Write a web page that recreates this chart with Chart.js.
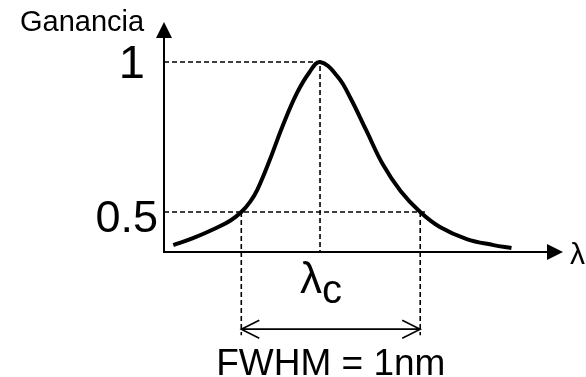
<!DOCTYPE html>
<html>
<head>
<meta charset="utf-8">
<script src="https://cdn.jsdelivr.net/npm/chart.js@4/dist/chart.umd.min.js"></script>
<style>
  html, body { margin: 0; padding: 0; background: #fff; }
  #wrap { width: 586px; height: 377px; }
</style>
</head>
<body>
<div id="wrap"><canvas id="gainChart" width="586" height="377"></canvas></div>
<script>
// gain curve, x = wavelength offset from lambda_c (nm), y = normalised gain
const gainX = [-0.82, -0.71, -0.58, -0.50, -0.44, -0.39, -0.35, -0.28, -0.21, -0.13, -0.06, 0, 0.10, 0.17, 0.26, 0.35, 0.45, 0.56, 0.67, 0.82, 0.97, 1.07];
const gainY = [0.39, 0.413, 0.447, 0.472, 0.50, 0.535, 0.575, 0.675, 0.785, 0.895, 0.965, 1.00, 0.95, 0.88, 0.77, 0.66, 0.57, 0.50, 0.45, 0.41, 0.39, 0.38];

// peak and half maximum points
const peakX = 0;
const halfX = [-0.44, 0.56];
const tickValues = [1, 0.5];
const tickLabels = ['1', '0.5'];

// visible range of the axes
const xRange = [-0.872, 1.358];
const yRange = [0.367, 1.133];
const arrowLevel = 0.11;   // height of the FWHM arrow
const dropLevel = 0.09;    // lower end of the dashed drop lines

const FONT = '"Liberation Sans", Arial, sans-serif';

const curve = gainX.map((x, i) => ({ x: x, y: gainY[i] }));

const dashStyle = {
    showLine: true,
    borderColor: '#000',
    borderWidth: 1.6,
    borderDash: [5, 3],
    pointRadius: 0,
    clip: false,
    tension: 0
};

const dashed = [
    [{ x: xRange[0], y: tickValues[0] }, { x: peakX, y: tickValues[0] }, { x: peakX, y: yRange[0] }],
    [{ x: xRange[0], y: tickValues[1] }, { x: halfX[1] + 0.04, y: tickValues[1] }],
    [{ x: halfX[0], y: tickValues[1] }, { x: halfX[0], y: dropLevel }],
    [{ x: halfX[1], y: tickValues[1] }, { x: halfX[1], y: dropLevel }]
].map(d => Object.assign({ data: d }, dashStyle));

const drawArrowHead = (ctx, x, y, dir) => {
    ctx.beginPath();
    if (dir === 'up') {
        ctx.moveTo(x, y);
        ctx.lineTo(x - 8, y + 16);
        ctx.lineTo(x + 8, y + 16);
    } else {
        ctx.moveTo(x, y);
        ctx.lineTo(x - 16, y - 8);
        ctx.lineTo(x - 16, y + 8);
    }
    ctx.closePath();
    ctx.fill();
};

const annotations = {
    id: 'annotations',
    afterDatasetsDraw(chart) {
        const ctx = chart.ctx;
        const xs = chart.scales.x;
        const ys = chart.scales.y;
        const left = xs.getPixelForValue(xRange[0]);
        const right = xs.getPixelForValue(xRange[1]);
        const top = ys.getPixelForValue(yRange[1]);
        const bottom = ys.getPixelForValue(yRange[0]);

        ctx.save();
        ctx.strokeStyle = '#000';
        ctx.fillStyle = '#000';
        ctx.setLineDash([]);

        // axes
        ctx.lineWidth = 2;
        ctx.beginPath();
        ctx.moveTo(left, top + 10);
        ctx.lineTo(left, bottom);
        ctx.lineTo(right - 10, bottom);
        ctx.stroke();
        drawArrowHead(ctx, left, top, 'up');
        drawArrowHead(ctx, right, bottom, 'right');

        // FWHM double arrow
        const ay = ys.getPixelForValue(arrowLevel);
        const a1 = xs.getPixelForValue(halfX[0]);
        const a2 = xs.getPixelForValue(halfX[1]);
        ctx.lineWidth = 1.6;
        ctx.beginPath();
        ctx.moveTo(a1, ay);
        ctx.lineTo(a2, ay);
        ctx.moveTo(a1 + 18, ay - 9);
        ctx.lineTo(a1, ay);
        ctx.lineTo(a1 + 18, ay + 9);
        ctx.moveTo(a2 - 18, ay - 9);
        ctx.lineTo(a2, ay);
        ctx.lineTo(a2 - 18, ay + 9);
        ctx.stroke();

        // labels
        ctx.textBaseline = 'alphabetic';
        ctx.textAlign = 'left';
        ctx.font = '29px ' + FONT;
        ctx.fillText('Ganancia', 20, 31);

        ctx.textAlign = 'right';
        ctx.font = '47px ' + FONT;
        ctx.fillText(tickLabels[0], left - 19, ys.getPixelForValue(tickValues[0]) + 16);
        ctx.font = '45px ' + FONT;
        ctx.fillText(tickLabels[1], left - 6, ys.getPixelForValue(tickValues[1]) + 20);

        ctx.textAlign = 'left';
        const px = xs.getPixelForValue(peakX);
        ctx.font = '44px ' + FONT;
        ctx.fillText('λ', px - 20, bottom + 41);
        ctx.font = '40px ' + FONT;
        ctx.fillText('c', px + 2, bottom + 51);

        ctx.font = '30px ' + FONT;
        ctx.fillText('λ', right + 7, bottom + 12);

        ctx.textAlign = 'center';
        ctx.font = '37px ' + FONT;
        ctx.fillText('FWHM = 1nm', (a1 + a2) / 2, 375);

        ctx.restore();
    }
};

new Chart(document.getElementById('gainChart'), {
    type: 'scatter',
    data: {
        datasets: [
            {
                data: curve,
                showLine: true,
                borderColor: '#000',
                borderWidth: 4,
                pointRadius: 0,
                tension: 0.4,
                borderCapStyle: 'butt',
                borderJoinStyle: 'round'
            },
            ...dashed
        ]
    },
    options: {
        responsive: false,
        devicePixelRatio: 1,
        animation: false,
        layout: { padding: { left: 164, right: 23, top: 22, bottom: 125 } },
        plugins: { legend: { display: false }, tooltip: { enabled: false } },
        scales: {
            x: { type: 'linear', display: false, min: xRange[0], max: xRange[1] },
            y: { type: 'linear', display: false, min: yRange[0], max: yRange[1] }
        }
    },
    plugins: [annotations]
});
</script>
</body>
</html>
